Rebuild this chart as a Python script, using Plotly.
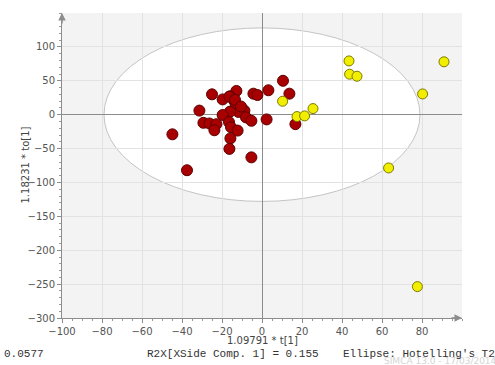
import plotly.graph_objects as go

# Class 1 (red) scores
red_t = [10.5, 13.7, 3.2, -4.3, -2.3, -12.8, -25.0, -16.0, -19.7, -13.8, -13.0, -10.2,
         -8.8, -11.8, -16.0, -19.7, -31.3, -8.0, -5.3, 2.3, 16.7, -29.3, -26.3, -22.8,
         -23.8, -16.5, -15.5, -12.2, -15.8, -16.3, -5.3, -44.8, -37.5, -16.3, -13.5, -10.5]
red_to = [50, 31, 36, 31, 29, 35, 30, 27, 22.5, 20, 15, 9.5,
          6, 4, 4.5, -0.5, 6, -4, -9, -7, -14, -12, -13, -14,
          -23, -11, -18.5, -23.5, -35, -50.5, -63, -29, -82, 26.6, 21.8, 12]
# Class 2 (yellow) scores
yel_t = [43.5, 91.0, 43.8, 47.5, 80.3, 10.3, 25.5, 17.5, 21.3, 63.3, 77.7]
yel_to = [79.3, 78.0, 59.7, 56.7, 30.6, 19.8, 9.0, -2.8, -1.8, -78.6, -253.7]

# Hotelling's T2 ellipse semi-axes
ell_a = 79
ell_b = 128

x_ticks = [-100, -80, -60, -40, -20, 0, 20, 40, 60, 80]
y_ticks = [-300, -250, -200, -150, -100, -50, 0, 50, 100]

fig = go.Figure()
fig.add_trace(go.Scatter(x=red_t, y=red_to, mode="markers",
                         marker=dict(size=11, color="#a80000",
                                     line=dict(color="#5e0000", width=1)),
                         showlegend=False))
fig.add_trace(go.Scatter(x=yel_t, y=yel_to, mode="markers",
                         marker=dict(size=10, color="#f2ee00",
                                     line=dict(color="#7d7a00", width=1)),
                         showlegend=False))

fig.add_shape(type="circle", xref="x", yref="y", x0=-ell_a, x1=ell_a, y0=-ell_b, y1=ell_b,
              fillcolor="white", line=dict(color="#c4c4c4", width=1), layer="below")

axis_common = dict(showgrid=True, gridcolor="#e2e2e2", gridwidth=1,
                   zeroline=True, zerolinecolor="#8c8c8c", zerolinewidth=1,
                   showline=True, linecolor="#8c8c8c", linewidth=1,
                   ticks="outside", ticklen=4, tickcolor="#8c8c8c",
                   tickfont=dict(family="DejaVu Sans", size=10, color="#555555"),
                   minor=dict(ticks="outside", ticklen=2, tickcolor="#9a9a9a", showgrid=False))

fig.update_xaxes(range=[-100, 100], tickvals=x_ticks, **axis_common)
fig.update_xaxes(minor=dict(dtick=5))
fig.update_yaxes(range=[-300, 150], tickvals=y_ticks, **axis_common)
fig.update_yaxes(minor=dict(dtick=10))

gray = "#8c8c8c"
mono = dict(family="Liberation Mono", size=11, color="#333333")
annotations = [
    dict(x=1, y=0, xref="paper", yref="paper", text="", showarrow=True,
         ax=-12, ay=0, arrowhead=2, arrowsize=1, arrowwidth=1.5, arrowcolor=gray),
    dict(x=0, y=1, xref="paper", yref="paper", text="", showarrow=True,
         ax=0, ay=12, arrowhead=2, arrowsize=1, arrowwidth=1.5, arrowcolor=gray),
    dict(x=0.5, y=-0.0754, xref="paper", yref="paper", text="1.09791 * t[1]",
         xanchor="center", yanchor="middle", showarrow=False,
         font=dict(family="DejaVu Sans", size=10, color="#444444")),
    dict(x=-0.0925, y=0.5, xref="paper", yref="paper", text="1.18231 * to[1]",
         xanchor="center", yanchor="middle", showarrow=False, textangle=-90,
         font=dict(family="DejaVu Sans", size=10, color="#444444")),
    dict(x=0.8, y=-0.141, xref="paper", yref="paper",
         text="SIMCA 13.0 - 17/03/2014 22:14:58 (UTC+0)", xanchor="left", yanchor="middle",
         showarrow=False, font=dict(family="DejaVu Sans", size=9, color="#d4d4d4")),
    dict(x=-0.15, y=-0.118, xref="paper", yref="paper", text="0.0577",
         xanchor="left", yanchor="middle", showarrow=False, font=mono),
    dict(x=0.2075, y=-0.118, xref="paper", yref="paper", text="R2X[XSide Comp. 1] = 0.155",
         xanchor="left", yanchor="middle", showarrow=False, font=mono),
    dict(x=0.6975, y=-0.118, xref="paper", yref="paper", text="Ellipse: Hotelling's T2",
         xanchor="left", yanchor="middle", showarrow=False, font=mono),
]

fig.update_layout(width=495, height=365,
                  margin=dict(l=62, r=33, t=13, b=47),
                  paper_bgcolor="white", plot_bgcolor="#f3f3f3",
                  annotations=annotations, showlegend=False)

fig.write_html("out.html", config={"displayModeBar": False},
               post_script="document.body.style.margin='0';")
